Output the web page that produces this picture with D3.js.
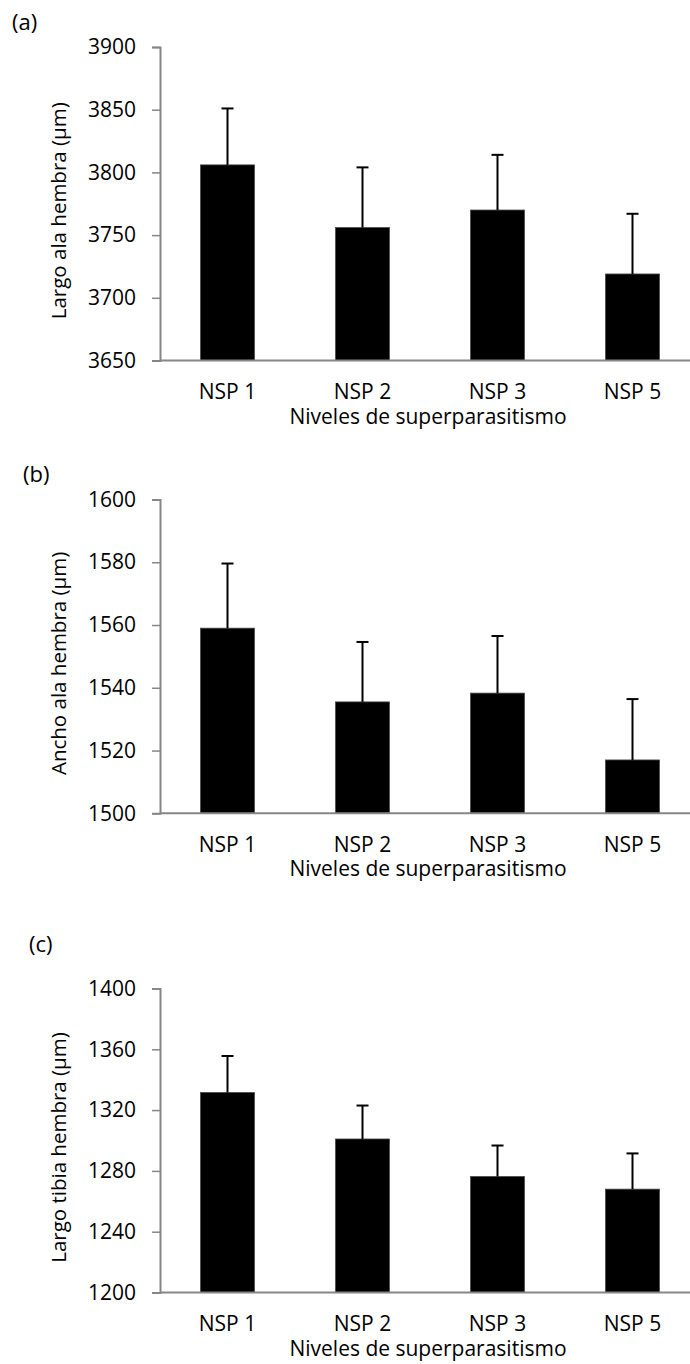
<!DOCTYPE html>
<html>
<head>
<meta charset="utf-8">
<script src="https://cdn.jsdelivr.net/npm/d3@7"></script>
<style>
  body { margin: 0; background: #fff; }
  text { font-family: 'Open Sans', sans-serif; fill: #000; }
</style>
</head>
<body>
<div id="chart"></div>
<script>
// categories shared by the three panels
const categories = ['NSP 1', 'NSP 2', 'NSP 3', 'NSP 5'];

// (a) largo ala hembra
const largoAla = [3806, 3756, 3770, 3719];
const largoAlaErr = [45, 48, 44, 48];
const ticksA = [3650, 3700, 3750, 3800, 3850, 3900];

// (b) ancho ala hembra
const anchoAla = [1559, 1535.5, 1538.3, 1517];
const anchoAlaErr = [20.6, 19.1, 18.2, 19.4];
const ticksB = [1500, 1520, 1540, 1560, 1580, 1600];

// (c) largo tibia hembra
const largoTibia = [1331.6, 1301, 1276.3, 1268];
const largoTibiaErr = [24, 22, 20.4, 23.5];
const ticksC = [1200, 1240, 1280, 1320, 1360, 1400];

const xTitle = 'Niveles de superparasitismo';

// panel layout (positions only)
let panels = [
    { tag: '(a)', tagX: 12, tagY: 30, title: 'Largo ala hembra (µm)', values: largoAla, errs: largoAlaErr, ticks: ticksA, top: 47, bottom: 360.5 },
    { tag: '(b)', tagX: 23, tagY: 482, title: 'Ancho ala hembra (µm)', values: anchoAla, errs: anchoAlaErr, ticks: ticksB, top: 499.5, bottom: 813.3 },
    { tag: '(c)', tagX: 29, tagY: 952, title: 'Largo tibia hembra (µm)', values: largoTibia, errs: largoTibiaErr, ticks: ticksC, top: 988.5, bottom: 1292.5 }
];

let dim = { width: 690, height: 1364 };
let axisLeftX = 160;
let axisColor = '#868686';
let fontSize = 21;

let svg = d3.select('#chart')
    .append('svg')
    .attr('width', dim.width)
    .attr('height', dim.height);

// bands shared by all panels
let scaleX = d3.scaleBand()
    .domain(categories)
    .range([axisLeftX, 700])
    .paddingInner(0.6)
    .paddingOuter(0.3);

panels.forEach(p => {
    let g = svg.append('g');

    let scaleY = d3.scaleLinear()
        .domain(d3.extent(p.ticks))
        .range([p.bottom, p.top]);

    // bars
    g.selectAll('rect')
        .data(p.values)
        .join('rect')
        .attr('x', (d, i) => scaleX(categories[i]))
        .attr('width', scaleX.bandwidth())
        .attr('y', d => scaleY(d))
        .attr('height', d => scaleY(p.ticks[0]) - scaleY(d))
        .attr('fill', '#000')
        .attr('stroke', '#4a4a4a')
        .attr('stroke-width', 0.8);

    // error bars (upper only)
    let cx = i => scaleX(categories[i]) + scaleX.bandwidth() / 2;
    g.selectAll('line.err')
        .data(p.values)
        .join('line')
        .attr('class', 'err')
        .attr('x1', (d, i) => cx(i))
        .attr('x2', (d, i) => cx(i))
        .attr('y1', d => scaleY(d))
        .attr('y2', (d, i) => scaleY(d + p.errs[i]))
        .attr('stroke', '#000')
        .attr('stroke-width', 2);

    g.selectAll('line.cap')
        .data(p.values)
        .join('line')
        .attr('class', 'cap')
        .attr('x1', (d, i) => cx(i) - 6)
        .attr('x2', (d, i) => cx(i) + 6)
        .attr('y1', (d, i) => scaleY(d + p.errs[i]))
        .attr('y2', (d, i) => scaleY(d + p.errs[i]))
        .attr('stroke', '#000')
        .attr('stroke-width', 2);

    // y axis
    let axisY = g.append('g')
        .attr('transform', `translate(${axisLeftX}, 0)`)
        .call(d3.axisLeft(scaleY)
            .tickValues(p.ticks)
            .tickFormat(d3.format('d'))
            .tickSizeInner(8)
            .tickSizeOuter(8)
            .tickPadding(16));
    styleAxis(axisY);

    // x axis: only the line and labels
    let axisX = g.append('g')
        .attr('transform', `translate(0, ${p.bottom})`)
        .call(d3.axisBottom(scaleX)
            .tickSize(0)
            .tickPadding(24));
    styleAxis(axisX);
    axisX.select('.domain').attr('d', `M${axisLeftX},0H700`);

    // x title
    g.append('text')
        .attr('x', 428)
        .attr('y', p.bottom + 63)
        .attr('text-anchor', 'middle')
        .attr('font-size', fontSize)
        .text(xTitle);

    // y title
    g.append('text')
        .attr('transform', `translate(66, ${(p.top + p.bottom) / 2 + 7}) rotate(-90)`)
        .attr('text-anchor', 'middle')
        .attr('font-size', 20.5)
        .text(p.title);

    // panel tag
    g.append('text')
        .attr('x', p.tagX)
        .attr('y', p.tagY)
        .attr('font-size', 22)
        .text(p.tag);
});

function styleAxis(axis) {
    axis.selectAll('.domain')
        .attr('stroke', axisColor)
        .attr('stroke-width', 2);
    axis.selectAll('line')
        .attr('stroke', axisColor)
        .attr('stroke-width', 1.5);
    axis.selectAll('text')
        .attr('font-size', fontSize)
        .attr('fill', '#000')
        .attr('font-family', "'Open Sans', sans-serif");
}
</script>
</body>
</html>
